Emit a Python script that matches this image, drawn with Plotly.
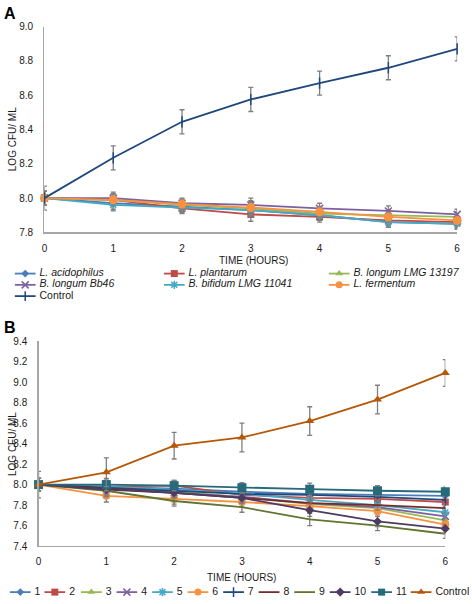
import plotly.graph_objects as go

# ---------------- data ----------------
hours = [0, 1, 2, 3, 4, 5, 6]

# Panel A
a_names = ["L. acidophilus", "L. plantarum", "B. longum LMG 13197",
           "B. longum Bb46", "B. bifidum LMG 11041", "L. fermentum", "Control"]
a_acidophilus = [8.00, 7.97, 7.95, 7.93, 7.90, 7.86, 7.85]
a_plantarum = [8.00, 7.99, 7.94, 7.905, 7.89, 7.87, 7.86]
a_longum13197 = [8.00, 7.99, 7.96, 7.94, 7.91, 7.90, 7.89]
a_longumBb46 = [8.00, 8.00, 7.97, 7.96, 7.94, 7.925, 7.905]
a_bifidum = [8.00, 7.96, 7.945, 7.93, 7.90, 7.86, 7.85]
a_fermentum = [8.00, 7.99, 7.965, 7.945, 7.92, 7.89, 7.87]
a_control = [8.00, 8.235, 8.445, 8.575, 8.67, 8.76, 8.87]
a_err_strain = [0.04, 0.035, 0.03, 0.04, 0.03, 0.03, 0.03]
a_err_control = [0.07, 0.07, 0.07, 0.07, 0.07, 0.07, 0.07]

# Panel B
b_names = ["1", "2", "3", "4", "5", "6", "7", "8", "9", "10", "11", "Control"]
b_1 = [8.00, 7.98, 7.96, 7.93, 7.91, 7.90, 7.89]
b_2 = [8.00, 7.98, 7.99, 7.90, 7.87, 7.86, 7.83]
b_3 = [8.00, 7.97, 7.93, 7.88, 7.81, 7.77, 7.65]
b_4 = [8.00, 7.96, 7.92, 7.88, 7.82, 7.78, 7.69]
b_5 = [8.00, 7.98, 7.95, 7.91, 7.85, 7.80, 7.73]
b_6 = [8.00, 7.89, 7.86, 7.83, 7.79, 7.74, 7.61]
b_7 = [8.00, 7.97, 7.94, 7.91, 7.90, 7.88, 7.85]
b_8 = [8.00, 7.96, 7.92, 7.87, 7.82, 7.80, 7.77]
b_9 = [8.00, 7.94, 7.84, 7.78, 7.66, 7.60, 7.52]
b_10 = [8.00, 7.95, 7.92, 7.87, 7.75, 7.64, 7.57]
b_11 = [8.00, 8.00, 7.99, 7.97, 7.955, 7.94, 7.93]
b_control = [8.00, 8.12, 8.38, 8.46, 8.62, 8.83, 9.09]
b_err_strain = [0.06, 0.06, 0.05, 0.05, 0.06, 0.05, 0.045]
b_err_control = [0.13, 0.14, 0.13, 0.14, 0.14, 0.14, 0.13]

a_values = [a_acidophilus, a_plantarum, a_longum13197, a_longumBb46,
            a_bifidum, a_fermentum, a_control]
b_values = [b_1, b_2, b_3, b_4, b_5, b_6, b_7, b_8, b_9, b_10, b_11, b_control]

# ---------------- styles ----------------
a_colors = ["#4A7EBB", "#BE4B48", "#98B954", "#7D60A0", "#46AAC5", "#F69240", "#1F497D"]
a_symbols = ["diamond", "square", "triangle-up", "x-thin-open", "asterisk-open",
             "circle", "line-ns-open"]
a_sizes = [6, 7, 7, 7, 7, 9, 8]

b_colors = ["#4A7EBB", "#BE4B48", "#98B954", "#7D60A0", "#46AAC5", "#F69240",
            "#1F497D", "#772C2A", "#5F7530", "#4D3B62", "#276A7C", "#B65708"]
b_symbols = ["diamond", "square", "triangle-up", "x-thin-open", "asterisk-open",
             "circle", "line-ns-open", None, None, "diamond", "square", "triangle-up"]
b_sizes = [6, 7, 7, 7, 7, 8, 8, 0, 0, 7, 9, 8]

W, H = 472, 604
FONT = "Arial, Liberation Sans, sans-serif"
TXT = "#1a1a1a"
AX = "#A6A6A6"
ERR = "#7F7F7F"

fig = go.Figure()


def add_series(x, y, err, color, symbol, size, xa, ya):
    mode = "lines+markers" if symbol else "lines"
    mk = dict(color=color, size=size)
    if symbol:
        mk["symbol"] = symbol
        if symbol.endswith("-open"):
            mk["line"] = dict(color=color, width=1.5)
    fig.add_trace(go.Scatter(
        x=x, y=y, mode=mode, xaxis=xa, yaxis=ya, showlegend=False,
        line=dict(color=color, width=1.8), marker=mk, cliponaxis=False,
        error_y=dict(type="data", array=err, color=ERR, thickness=1.3, width=2.5),
        hoverinfo="skip"))


for i, vals in enumerate(a_values):
    err = a_err_control if a_names[i] == "Control" else a_err_strain
    add_series(hours, vals, err, a_colors[i], a_symbols[i], a_sizes[i], "x", "y")

for i, vals in enumerate(b_values):
    err = b_err_control if b_names[i] == "Control" else b_err_strain
    add_series(hours, vals, err, b_colors[i], b_symbols[i], b_sizes[i], "x2", "y2")

# ---------------- legends (drawn on a pixel-coordinate overlay axis) ----------------
LEG_LINE = 21


def legend_item(x0, y0, color, symbol, size, name, italic, text_dx):
    mk = dict(color=color, size=size)
    if symbol:
        mk["symbol"] = symbol
        if symbol.endswith("-open"):
            mk["line"] = dict(color=color, width=1.5)
    fig.add_trace(go.Scatter(
        x=[x0, x0 + LEG_LINE / 2, x0 + LEG_LINE], y=[y0, y0, y0],
        mode="lines", xaxis="x3", yaxis="y3", showlegend=False,
        line=dict(color=color, width=1.8), hoverinfo="skip", cliponaxis=False))
    if symbol:
        fig.add_trace(go.Scatter(
            x=[x0 + LEG_LINE / 2], y=[y0], mode="markers", xaxis="x3", yaxis="y3",
            showlegend=False, marker=mk, hoverinfo="skip", cliponaxis=False))
    label = f"<i>{name}</i>" if italic else name
    fig.add_trace(go.Scatter(
        x=[x0 + text_dx], y=[y0], mode="text", text=[label],
        textposition="middle right", xaxis="x3", yaxis="y3", showlegend=False,
        textfont=dict(family=FONT, size=10.5, color=TXT), hoverinfo="skip",
        cliponaxis=False))


a_leg_cols = [12, 163, 330]
a_leg_rows = [273, 284.5, 296]
for i, name in enumerate(a_names):
    legend_item(a_leg_cols[i % 3], a_leg_rows[i // 3], a_colors[i], a_symbols[i],
                min(a_sizes[i], 7), name, name != "Control", 25)

b_leg_x = [7, 42, 79, 115, 151, 187, 223, 259, 295, 331, 373, 413]
for i, name in enumerate(b_names):
    legend_item(b_leg_x[i], 598, b_colors[i], b_symbols[i], min(b_sizes[i], 7),
                name, False, 25)

# ---------------- axes ----------------
axis_common = dict(showgrid=False, zeroline=False, showline=True, linecolor=AX,
                   linewidth=1.3, ticks="", tickfont=dict(family=FONT, size=10, color=TXT),
                   fixedrange=True)

# Panel A: x 0->42px, 6->460px ; y 9.0->21px, 7.8->231px
fig.update_layout(
    xaxis=dict(domain=[42 / W, 460 / W], range=[0, 6], tickvals=hours,
               anchor="y", ticklabelstandoff=6, **axis_common),
    yaxis=dict(domain=[1 - 231 / H, 1 - 21 / H], range=[7.8, 9.0],
               tickvals=[7.8, 8.0, 8.2, 8.4, 8.6, 8.8, 9.0], tickformat=".1f",
               anchor="x", ticklabelstandoff=8, **axis_common),
    xaxis2=dict(domain=[36 / W, 448 / W], range=[0, 6], tickvals=hours,
                anchor="y2", ticklabelstandoff=6, **axis_common),
    yaxis2=dict(domain=[1 - 551 / H, 1 - 342 / H], range=[7.4, 9.4],
                tickvals=[7.4, 7.6, 7.8, 8.0, 8.2, 8.4, 8.6, 8.8, 9.0, 9.2, 9.4],
                tickformat=".1f", anchor="x2", ticklabelstandoff=8, **axis_common),
    xaxis3=dict(domain=[0, 1], range=[0, W], visible=False, fixedrange=True, anchor="y3"),
    yaxis3=dict(domain=[0, 1], range=[H, 0], visible=False, fixedrange=True, anchor="x3"),
)

# titles / panel letters (pixel overlay coordinates)
texts = [
    ("A", 7, 8, 16, True, 0),
    ("B", 7, 328, 16, True, 0),
    ("TIME (HOURS)", 254, 259.5, 10, False, 0),
    ("TIME (HOURS)", 242, 583, 10, False, 0),
    ("LOG CFU/ ML", 9, 136, 10, False, -90),
    ("LOG CFU/ ML", 9, 447, 10, False, -90),
]
for t, x, y, s, bold, ang in texts:
    fig.add_annotation(x=x, y=y, xref="x3", yref="y3",
                       text=f"<b>{t}</b>" if bold else t, showarrow=False,
                       xanchor="center", yanchor="middle", textangle=ang,
                       borderpad=0,
                       font=dict(family=FONT, size=s, color="#000" if bold else TXT))

fig.update_layout(
    width=W, height=H, margin=dict(l=0, r=0, t=0, b=0),
    paper_bgcolor="white", plot_bgcolor="rgba(0,0,0,0)",
    showlegend=False,
)

fig.write_html(
    "out.html",
    config=dict(displayModeBar=False, staticPlot=True),
    post_script="document.body.style.margin='0';document.body.style.overflow='hidden';",
)
